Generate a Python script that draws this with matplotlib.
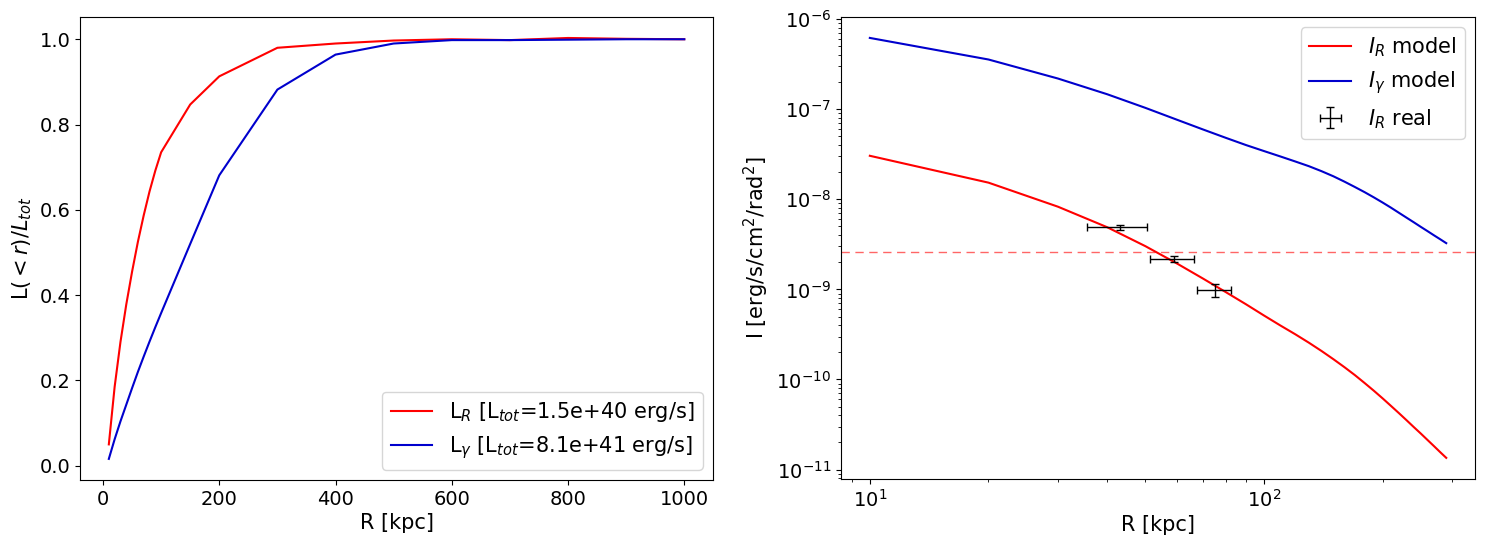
import matplotlib
matplotlib.use("Agg")
import matplotlib.pyplot as plt
import numpy as np

# ---- Left panel: cumulative luminosity fraction ----
r_cum = [10, 20, 30, 40, 50, 60, 70, 80, 90, 100, 150, 200, 300, 400, 500, 600, 700, 800, 900, 1000]
L_R_frac = [0.05, 0.185, 0.29, 0.378, 0.455, 0.525, 0.587, 0.643, 0.692, 0.735, 0.847, 0.913, 0.98, 0.99,
            0.997, 1.0, 0.998, 1.003, 1.001, 1.0]
L_g_frac = [0.016, 0.062, 0.104, 0.143, 0.182, 0.220, 0.256, 0.291, 0.325, 0.358, 0.52, 0.681, 0.882, 0.964,
            0.99, 0.998, 0.998, 0.999, 1.0, 1.0]
label_LR = r"L$_R$ [L$_{tot}$=1.5e+40 erg/s]"
label_Lg = r"L$_\gamma$ [L$_{tot}$=8.1e+41 erg/s]"

# ---- Right panel: surface brightness profiles ----
r_prof = [10, 20, 30, 40, 50, 60, 70, 80, 90, 100, 110, 120, 130, 140, 150, 160, 170, 180, 190, 200,
          210, 220, 230, 240, 250, 260, 270, 280, 290]
I_R_model = [3.04e-8, 1.53e-8, 8.28e-9, 4.90e-9, 3.02e-9, 1.95e-9, 1.32e-9, 9.33e-10, 6.84e-10, 5.13e-10,
             3.98e-10, 3.18e-10, 2.56e-10, 2.07e-10, 1.68e-10, 1.37e-10, 1.12e-10, 9.14e-11, 7.50e-11,
             6.17e-11, 5.09e-11, 4.23e-11, 3.53e-11, 2.96e-11, 2.51e-11, 2.13e-11, 1.82e-11, 1.56e-11,
             1.35e-11]
I_g_model = [6.18e-7, 3.56e-7, 2.19e-7, 1.466e-7, 1.035e-7, 7.67e-8, 5.96e-8, 4.81e-8, 4.00e-8, 3.43e-8,
             2.99e-8, 2.63e-8, 2.33e-8, 2.05e-8, 1.80e-8, 1.57e-8, 1.37e-8, 1.20e-8, 1.05e-8, 9.20e-9,
             8.07e-9, 7.08e-9, 6.25e-9, 5.55e-9, 4.94e-9, 4.43e-9, 3.98e-9, 3.60e-9, 3.26e-9]
r_real = [43, 59, 75]
r_real_err = [7.5, 7.5, 7.5]
I_R_real = [4.9e-9, 2.18e-9, 9.9e-10]
I_R_real_err = [0.3e-9, 0.17e-9, 0.16e-9]
I_threshold = 2.6e-9

fs = 15
plt.rcParams['font.size'] = 14

fig = plt.figure(figsize=(14.88, 5.46), dpi=100)
ax1 = fig.add_axes([0.0538, 0.121, 0.4254, 0.848])
ax2 = fig.add_axes([0.5652, 0.123, 0.4261, 0.846])

ax1.plot(r_cum, L_R_frac, color='r', lw=1.5, label=label_LR)
ax1.plot(r_cum, L_g_frac, color='mediumblue', lw=1.5, label=label_Lg)
ax1.set_xlabel("R [kpc]", fontsize=fs, labelpad=3)
ax1.set_ylabel(r"L$(<r)/L_{tot}$", fontsize=fs)
ax1.tick_params(labelsize=14)
ax1.legend(loc='lower right', fontsize=fs)

ax2.plot(r_prof, I_R_model, color='r', lw=1.5, label=r"$I_R$ model")
ax2.plot(r_prof, I_g_model, color='mediumblue', lw=1.5, label=r"$I_\gamma$ model")
ax2.errorbar(r_real, I_R_real, xerr=r_real_err, yerr=I_R_real_err, fmt='none',
             ecolor='k', elinewidth=1, capsize=3, label=r"$I_R$ real")
ax2.axhline(I_threshold, color='red', alpha=0.6, lw=1, ls=(0, (6, 4)))
ax2.set_xscale('log')
ax2.set_yscale('log')
ax2.set_xlabel("R [kpc]", fontsize=fs, labelpad=3)
ax2.set_ylabel(r"I [erg/s/cm$^2$/rad$^2$]", fontsize=fs)
ax2.tick_params(labelsize=14)
ax2.legend(loc='upper right', fontsize=fs)

fig.savefig("out.png", dpi=100)
